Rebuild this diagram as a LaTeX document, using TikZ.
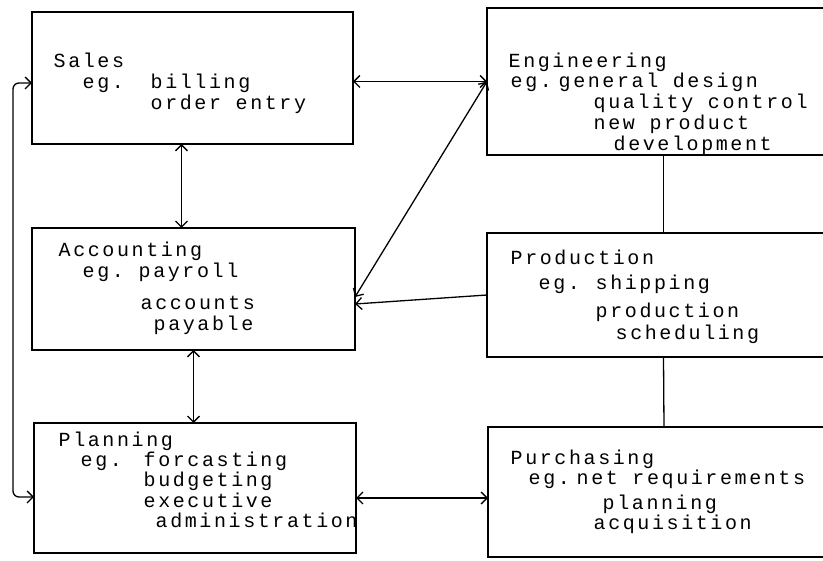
\documentclass[tikz,border=0pt]{standalone}
\usepackage{fontspec}
\newfontfamily\typewriter[LetterSpace=13]{Liberation Mono}
\usetikzlibrary{arrows.meta}

% one word of a box text: x offset and drop below the first baseline, in pt
\newcommand\seg[3]{\makebox[0pt][l]{\hspace*{#1pt}\raisebox{-#2pt}{#3}}}

\tikzset{
  dept/.style={draw, line width=1.4pt, inner sep=0pt, outer sep=0pt},
  txt/.style={font=\typewriter\fontsize{20}{21}\selectfont, anchor=base west, inner sep=0pt},
  link/.style={line width=1.3pt},
  barb/.tip={Straight Barb[length=6pt,width=12pt,line width=1.3pt]},
  twoway/.style={link, barb-barb},
  oneway/.style={link, -barb}
}

\begin{document}
\begin{tikzpicture}[x=1pt, y=-1pt]
  \useasboundingbox (0,0) rectangle (823,561);
  \clip (0,0) rectangle (823,561);

  % department boxes (right column runs off the sheet)
  \node[dept, minimum width=321pt, minimum height=132pt] (sales) at (192.5,78) {};
  \node[dept, minimum width=353pt, minimum height=147pt] (eng)   at (663.5,81.5) {};
  \node[dept, minimum width=323pt, minimum height=122pt] (acct)  at (193.5,289) {};
  \node[dept, minimum width=353pt, minimum height=124pt] (prod)  at (663.5,295) {};
  \node[dept, minimum width=322pt, minimum height=130pt] (plan)  at (195,488) {};
  \node[dept, minimum width=352pt, minimum height=130pt] (purch) at (664,492) {};

  % box texts
  \node[txt] (salesT) at (53,68)
    {\seg{0}{0}{Sales}\seg{29}{21}{eg.}\seg{97}{21}{billing}\seg{97}{42}{order entry}};
  \node[txt] (engT) at (508,68)
    {\seg{0}{0}{Engineering}\seg{2}{20}{eg.}\seg{50}{20}{general design}%
     \seg{85}{41}{quality control}\seg{85}{62}{new product}\seg{105}{83}{development}};
  \node[txt] (acctT) at (58,257)
    {\seg{0}{0}{Accounting}\seg{24}{21}{eg.}\seg{80}{21}{payroll}%
     \seg{82}{53}{accounts}\seg{95}{74}{payable}};
  \node[txt] (prodT) at (510,265)
    {\seg{0}{0}{Production}\seg{28}{25}{eg.}\seg{85}{25}{shipping}%
     \seg{85}{53}{production}\seg{105}{75}{scheduling}};
  \node[txt] (planT) at (58,447)
    {\seg{0}{0}{Planning}\seg{22}{20}{eg.}\seg{85}{20}{forcasting}%
     \seg{85}{40}{budgeting}\seg{85}{61}{executive}\seg{97}{81}{administration}};
  \node[txt] (purchT) at (510,465)
    {\seg{0}{0}{Purchasing}\seg{18}{20}{eg.}\seg{66}{20}{net requirements}%
     \seg{92}{45}{planning}\seg{83}{65}{acquisition}};

  % connectors
  \coordinate (loopx) at (13,300);
  \draw[twoway] (sales.east |- eng.west) -- (eng.west);
  \draw[twoway] (eng.west) -- ([yshift=-8pt]acct.east);
  \draw[oneway] (prod.west) -- ([yshift=-15pt]acct.east);
  \draw[link] (eng.south) -- (prod.north);
  \draw[link] (prod.south) -- (purch.north);
  \draw[twoway] ([xshift=-11pt]sales.south) -- ([xshift=-11pt]sales.south |- acct.north);
  \draw[twoway] (acct.south) -- (acct.south |- plan.north);
  \draw[twoway] ([yshift=-10pt]plan.east) -- ([yshift=-10pt]plan.east -| purch.west);
  \draw[twoway, rounded corners=6pt] ([yshift=-5pt]sales.west) -| (loopx) |- ([yshift=-9pt]plan.west);
\end{tikzpicture}
\end{document}
